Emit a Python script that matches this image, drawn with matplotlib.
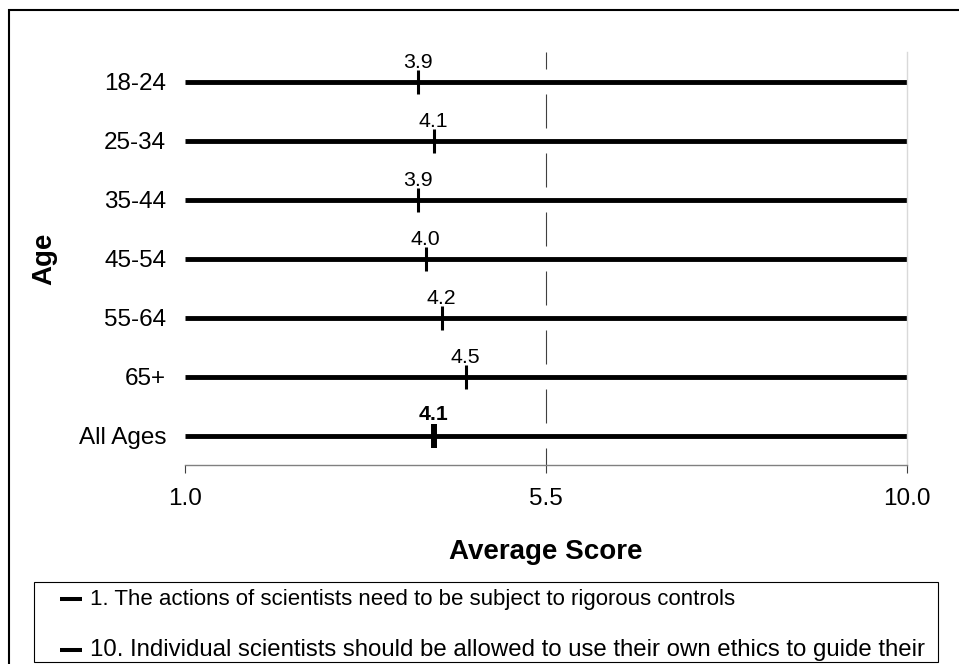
import matplotlib
matplotlib.use("Agg")
import matplotlib.pyplot as plt
from matplotlib.patches import Rectangle
from matplotlib.lines import Line2D

# ---- data -------------------------------------------------------------
age_groups = ["18-24", "25-34", "35-44", "45-54", "55-64", "65+", "All Ages"]
average_scores = [3.9, 4.1, 3.9, 4.0, 4.2, 4.5, 4.1]
scale_ticks = [1.0, 5.5, 10.0]
scale_tick_labels = ["1.0", "5.5", "10.0"]
legend_labels = [
    "1. The actions of scientists need to be subject to rigorous controls",
    "10. Individual scientists should be allowed to use their own ethics to guide their",
]

# ---- figure setup -----------------------------------------------------
W, H = 959, 664
plt.rcParams["font.family"] = ["Liberation Sans", "DejaVu Sans"]
fig = plt.figure(figsize=(W / 100, H / 100), dpi=100)
fig.patch.set_facecolor("white")


def fx(px):
    return px / W


def fy(py):
    return 1 - py / H


ax = fig.add_axes([fx(185), fy(465), (907 - 185) / W, (465 - 52) / H])
rows = list(range(len(age_groups)))
n = len(rows)
ax.set_xlim(scale_ticks[0], scale_ticks[-1])
ax.set_ylim(n - 0.5, -0.5)

# dashed midpoint reference line, broken around each row
mid = scale_ticks[1]
for i in range(-1, n):
    y0 = max(i + 0.21, -0.5)
    y1 = min(i + 0.79, n - 0.5)
    ax.vlines(mid, y0, y1, color="#404040", lw=0.8, zorder=1)

# full-scale bar for every age group
ax.hlines(rows, scale_ticks[0], scale_ticks[-1], color="black", lw=3.5, zorder=2)

# average score markers and their value labels
for i, v in enumerate(average_scores):
    total = age_groups[i] == "All Ages"
    ax.vlines(v, i - 0.2, i + 0.21, color="black", lw=4.3 if total else 2.2, zorder=3)
    ax.annotate(f"{v:.1f}", (v, i - 0.2), xytext=(0, 3 if total else 1.5),
                textcoords="offset points", ha="center", va="baseline",
                fontsize=15.3, fontweight="bold" if total else "normal")

# axes styling
for side in ("top", "left"):
    ax.spines[side].set_visible(False)
ax.spines["right"].set_color("#d9d9d9")
ax.spines["right"].set_linewidth(1.0)
ax.spines["bottom"].set_color("#808080")
ax.spines["bottom"].set_linewidth(1.0)

ax.set_xticks(scale_ticks)
ax.set_xticklabels(scale_tick_labels)
ax.tick_params(axis="x", direction="out", length=5.8, width=0.8, color="#404040",
               labelsize=17.5, pad=10.5)
ax.set_yticks(rows)
ax.set_yticklabels(age_groups)
ax.tick_params(axis="y", length=0, labelsize=17.5, pad=13.5)

ax.set_xlabel("Average Score", fontsize=20, fontweight="bold")
ax.xaxis.set_label_coords(0.5, (465 - 552) / 413)
ax.xaxis.label.set_va("center")
ax.set_ylabel("Age", fontsize=20, fontweight="bold")
ax.yaxis.set_label_coords((44 - 185) / 722, 0.5)
ax.yaxis.label.set_va("center")

# outer chart frame
fig.add_artist(Rectangle((fx(9), -0.1), 1.2, fy(9.5) + 0.1, transform=fig.transFigure,
                         fill=False, ec="black", lw=1.5))

# legend box
fig.add_artist(Rectangle((fx(34), fy(662)), fx(938) - fx(34), fy(582) - fy(662),
                         transform=fig.transFigure, fill=False, ec="black", lw=0.8))
for label, y_line, y_base, size in zip(legend_labels, (599, 650), (605, 656), (16, 17.3)):
    fig.add_artist(Line2D([fx(60), fx(82)], [fy(y_line), fy(y_line)],
                          transform=fig.transFigure, color="black", lw=2.9,
                          solid_capstyle="butt"))
    fig.text(fx(90), fy(y_base), label, ha="left", va="baseline", fontsize=size)

fig.savefig("out.png", dpi=100)
